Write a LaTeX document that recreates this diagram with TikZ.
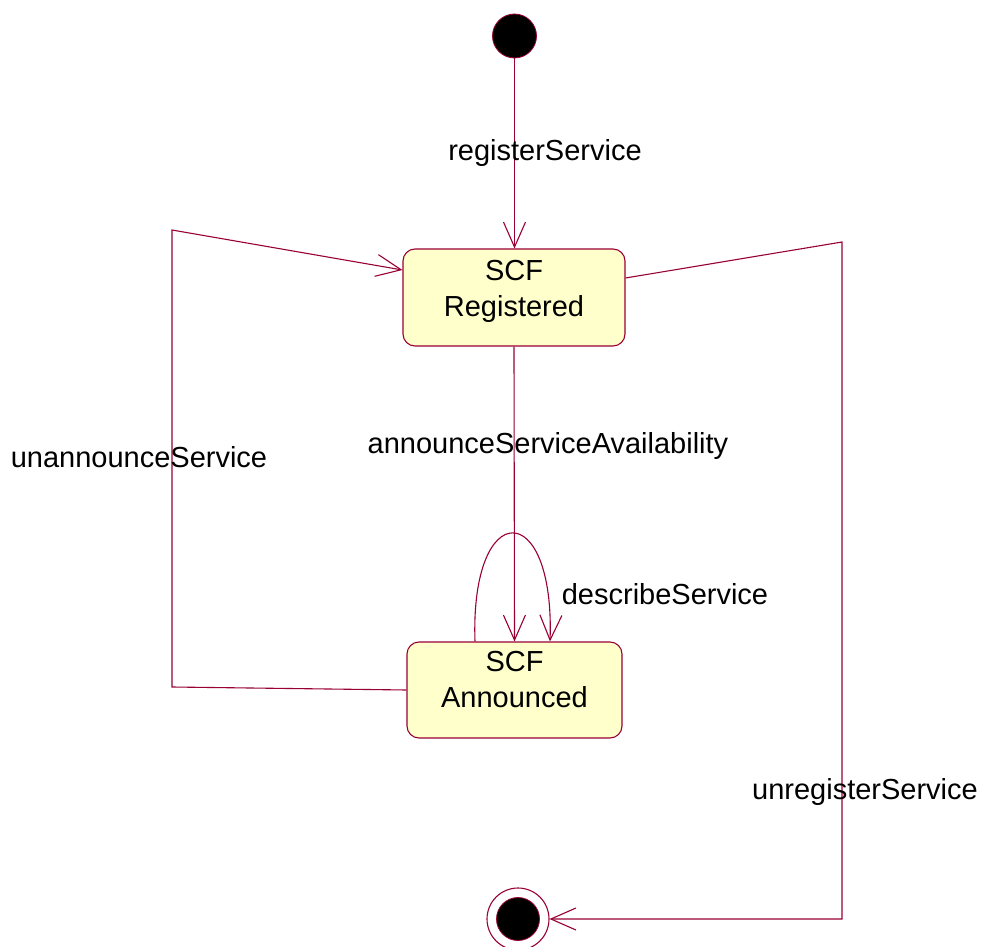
\documentclass[tikz,border=0pt]{standalone}
\usepackage{fontspec}
\setmainfont{Liberation Sans}
\usetikzlibrary{arrows.meta,calc}
\definecolor{umlline}{RGB}{153,0,51}
\definecolor{umlfill}{RGB}{255,255,204}

\begin{document}
\begin{tikzpicture}[x=0.5pt, y=-0.5pt,
    font=\fontsize{14.5}{18}\selectfont,
    >={Straight Barb[length=12.5pt,width=11pt]},
    trans/.style={umlline, line width=0.55pt},
    statebox/.style={draw=umlline, fill=umlfill, line width=0.55pt,
      rounded corners=6pt, inner sep=0pt},
    statetext/.style={align=center, inner sep=0pt},
    startdot/.style={circle, draw=umlline, fill=black, minimum size=22pt, inner sep=0pt},
    endring/.style={circle, draw=umlline, line width=0.55pt, minimum size=31pt, inner sep=0pt},
    enddot/.style={circle, draw=umlline, fill=black, minimum size=21.5pt, inner sep=0pt},
    lbl/.style={inner sep=0pt}]
  \useasboundingbox (0,0) rectangle (981,947);

  %% States
  \node[startdot] (start) at (514.5,36) {};
  \node[statebox, minimum width=111pt, minimum height=48.5pt] (reg) at (514,297.5) {};
  \node[statetext] (regtext) at ($(reg)+(0,-6.5)$) {SCF\\Registered};
  \node[statebox, minimum width=107.5pt, minimum height=48pt] (ann) at (514.5,690) {};
  \node[statetext] (anntext) at ($(ann)+(0,-10)$) {SCF\\Announced};
  \node[endring] (stop) at (518,919) {};
  \node[enddot] (stopdot) at (stop) {};

  %% Bend points
  \coordinate (ua1) at (172,687);
  \coordinate (ua2) at (172,230);
  \coordinate (ur1) at (842,242);
  \coordinate (ur2) at (842,919);

  %% Transitions
  \draw[trans, ->] (start) -- (start |- reg.north);
  \draw[trans, ->] (reg.south) -- (ann.north);
  \draw[trans, ->] ($(ann.north)+(-39.5,0)$) .. controls (470,497) and (555,497)
    .. ($(ann.north)+(35.5,0)$);
  \draw[trans, ->] (ann.west) -- (ua1) -- (ua2) -- ($(reg.west)+(0,-27.5)$);
  \draw[trans, ->] ($(reg.east)+(0,-19.5)$) -- (ur1) -- (ur2) -- (stop.east);

  %% Labels
  \node[lbl] (lregister) at (545,153) {registerService};
  \node[lbl] (lannounce) at (548,446) {announceServiceAvailability};
  \node[lbl] (ldescribe) at (665,594) {describeService};
  \node[lbl] (lunannounce) at (139,457) {unannounceService};
  \node[lbl] (lunregister) at (865,792) {unregisterService};
\end{tikzpicture}
\end{document}
